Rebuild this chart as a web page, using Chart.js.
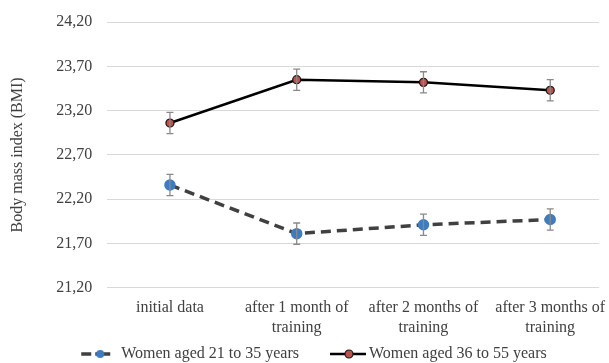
<!DOCTYPE html>
<html>
<head>
<meta charset="utf-8">
<script src="https://cdn.jsdelivr.net/npm/chart.js@4/dist/chart.umd.min.js"></script>
<style>
  html, body { margin: 0; padding: 0; background: #fff; overflow: hidden; }
  #wrap { width: 609px; height: 363px; }
</style>
</head>
<body>
<div id="wrap"><canvas id="bmiChart"></canvas></div>
<script>
// Datos
const periodLabels = [
    'initial data',
    ['after 1 month of', 'training'],
    ['after 2 months of', 'training'],
    ['after 3 months of', 'training']
];
const youngLabel = 'Women aged 21 to 35 years';
const olderLabel = 'Women aged 36 to 55 years';
const youngBmi = [22.36, 21.81, 21.91, 21.97];
const youngErr = [0.12, 0.12, 0.12, 0.12];
const olderBmi = [23.06, 23.55, 23.52, 23.43];
const olderErr = [0.12, 0.12, 0.12, 0.12];
const yTicks = [21.2, 21.7, 22.2, 22.7, 23.2, 23.7, 24.2];

const serif = '"Liberation Serif", "DejaVu Serif", serif';
const textColor = '#404040';
const blue = '#3d7cc2';
const red = '#c0504d';

// Iconos de leyenda: línea + punto (el ancho transparente sirve de separación)
function legendIcon(w, segs, dotX, dashed) {
    const c = document.createElement('canvas');
    c.width = w; c.height = 12;
    const g = c.getContext('2d');
    g.strokeStyle = dashed ? '#404040' : '#000';
    g.lineWidth = dashed ? 3.5 : 2.5;
    g.beginPath();
    segs.forEach(s => { g.moveTo(s[0], 6); g.lineTo(s[1], 6); });
    g.stroke();
    g.fillStyle = dashed ? blue : red;
    g.beginPath(); g.arc(dotX, 6, 4, 0, Math.PI * 2); g.fill();
    if (!dashed) { g.strokeStyle = '#1a1a1a'; g.lineWidth = 1.2; g.stroke(); }
    return c;
}
const youngIcon = legendIcon(60, [[26, 36], [40, 55]], 45, true);
const olderIcon = legendIcon(72, [[33, 69]], 52, false);

// Barras de error dibujadas con las escalas del gráfico
const errorBars = {
    id: 'errorBars',
    afterDatasetsDraw(chart) {
        const { ctx, scales: { x, y } } = chart;
        ctx.save();
        ctx.strokeStyle = '#8c8888';
        ctx.lineWidth = 1.3;
        chart.data.datasets.forEach(ds => {
            ds.data.forEach((p, i) => {
                const px = x.getPixelForValue(p.x);
                const top = y.getPixelForValue(p.y + ds.errors[i]);
                const bot = y.getPixelForValue(p.y - ds.errors[i]);
                ctx.beginPath();
                ctx.moveTo(px, top); ctx.lineTo(px, bot);
                ctx.moveTo(px - 3.5, top); ctx.lineTo(px + 3.5, top);
                ctx.moveTo(px - 3.5, bot); ctx.lineTo(px + 3.5, bot);
                ctx.stroke();
            });
        });
        ctx.restore();
    }
};

const toPoints = arr => arr.map((v, i) => ({ x: i, y: v }));

new Chart(document.getElementById('bmiChart'), {
    type: 'line',
    data: {
        datasets: [
            {
                label: youngLabel,
                data: toPoints(youngBmi),
                errors: youngErr,
                icon: youngIcon,
                borderColor: '#404040',
                borderWidth: 3.5,
                borderDash: [10, 6],
                pointBackgroundColor: blue,
                pointBorderColor: blue,
                pointRadius: 4
            },
            {
                label: olderLabel,
                data: toPoints(olderBmi),
                errors: olderErr,
                icon: olderIcon,
                borderColor: '#000',
                borderWidth: 2.5,
                pointBackgroundColor: red,
                pointBorderColor: '#1a1a1a',
                pointBorderWidth: 1.3,
                pointRadius: 4
            }
        ]
    },
    options: {
        responsive: true,
        maintainAspectRatio: false,
        animation: false,
        layout: { padding: { top: 20, right: 9, left: 4, bottom: -9 } },
        plugins: {
            legend: {
                position: 'bottom',
                labels: {
                    usePointStyle: true,
                    pointStyleWidth: 56,
                    color: textColor,
                    font: { family: serif, size: 16 },
                    padding: 6,
                    generateLabels(chart) {
                        return chart.data.datasets.map((ds, i) => ({
                            text: ds.label,
                            pointStyle: ds.icon,
                            fontColor: textColor,
                            lineWidth: 0,
                            datasetIndex: i
                        }));
                    }
                }
            },
            tooltip: { enabled: false }
        },
        scales: {
            x: {
                type: 'linear',
                min: -0.495,
                max: 3.385,
                grid: { display: false },
                border: { display: false },
                afterBuildTicks(scale) {
                    scale.ticks = periodLabels.map((_, i) => ({ value: i }));
                },
                ticks: {
                    color: textColor,
                    font: { family: serif, size: 16, lineHeight: 1.2 },
                    maxRotation: 0,
                    autoSkip: false,
                    padding: 3,
                    callback: v => periodLabels[v]
                }
            },
            y: {
                min: 21.2,
                max: 24.2,
                afterBuildTicks(scale) {
                    scale.ticks = yTicks.map(v => ({ value: v }));
                },
                grid: { color: '#d9d9d9', drawTicks: false },
                border: { display: false },
                title: {
                    display: true,
                    text: 'Body mass index (BMI)',
                    color: textColor,
                    font: { family: serif, size: 16, lineHeight: 1.2 },
                    padding: { top: 4, bottom: 14 }
                },
                ticks: {
                    color: textColor,
                    font: { family: serif, size: 16, lineHeight: 0.9 },
                    padding: 15,
                    callback: v => v.toFixed(2).replace('.', ',')
                }
            }
        }
    },
    plugins: [errorBars]
});
</script>
</body>
</html>
